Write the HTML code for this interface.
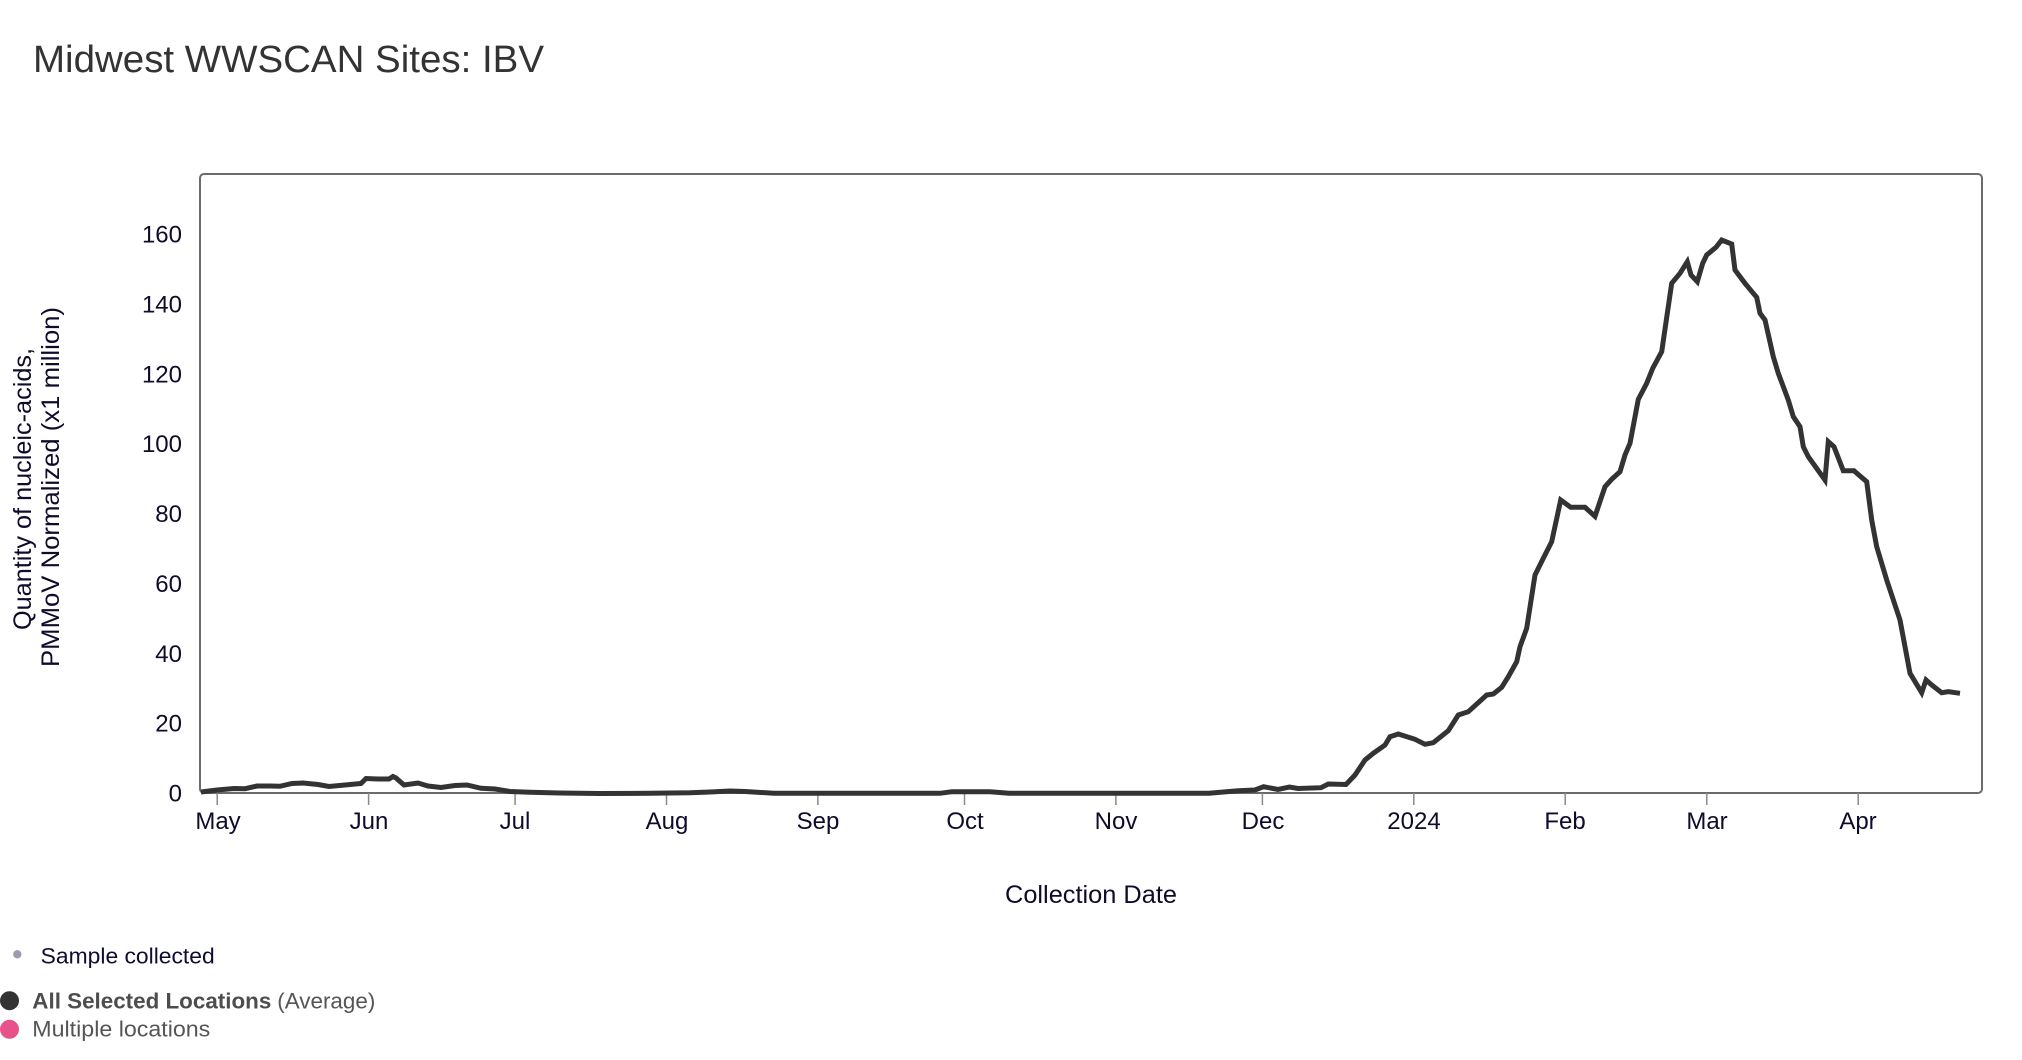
<!DOCTYPE html>
<html>
<head>
<meta charset="utf-8">
<style>
  html,body{margin:0;padding:0;background:#ffffff;}
  svg{display:block;}
  text{font-family:"Liberation Sans", Arial, sans-serif;}
</style>
</head>
<body>
<svg width="2022" height="1060" viewBox="0 0 2022 1060" xmlns="http://www.w3.org/2000/svg">
  <rect x="0" y="0" width="2022" height="1060" fill="#ffffff"/>

  <!-- Title -->
  <text x="33" y="72" font-size="38" fill="#333333" textLength="511" lengthAdjust="spacingAndGlyphs">Midwest WWSCAN Sites: IBV</text>

  <!-- Plot frame -->
  <rect x="200" y="174" width="1782" height="619" rx="4" ry="4" fill="none" stroke="#6b6b6b" stroke-width="2"/>

  <!-- X ticks -->
  <g stroke="#8a8a8a" stroke-width="1.5">
    <line x1="217.2" y1="793" x2="217.2" y2="805"/>
    <line x1="368.6" y1="793" x2="368.6" y2="805"/>
    <line x1="515.1" y1="793" x2="515.1" y2="805"/>
    <line x1="666.5" y1="793" x2="666.5" y2="805"/>
    <line x1="817.9" y1="793" x2="817.9" y2="805"/>
    <line x1="964.5" y1="793" x2="964.5" y2="805"/>
    <line x1="1115.9" y1="793" x2="1115.9" y2="805"/>
    <line x1="1262.4" y1="793" x2="1262.4" y2="805"/>
    <line x1="1413.8" y1="793" x2="1413.8" y2="805"/>
    <line x1="1565.2" y1="793" x2="1565.2" y2="805"/>
    <line x1="1706.8" y1="793" x2="1706.8" y2="805"/>
    <line x1="1858.2" y1="793" x2="1858.2" y2="805"/>
  </g>

  <!-- X tick labels -->
  <g font-size="24" fill="#0e0b2b" text-anchor="middle">
    <text x="218" y="829">May</text>
    <text x="369" y="829">Jun</text>
    <text x="515" y="829">Jul</text>
    <text x="667" y="829">Aug</text>
    <text x="818" y="829">Sep</text>
    <text x="965" y="829">Oct</text>
    <text x="1116" y="829">Nov</text>
    <text x="1263" y="829">Dec</text>
    <text x="1414" y="829">2024</text>
    <text x="1565" y="829">Feb</text>
    <text x="1707" y="829">Mar</text>
    <text x="1858" y="829">Apr</text>
  </g>

  <!-- Y tick labels -->
  <g font-size="24" fill="#0e0b2b" text-anchor="end">
    <text x="182" y="801.6">0</text>
    <text x="182" y="731.7">20</text>
    <text x="182" y="661.9">40</text>
    <text x="182" y="592.0">60</text>
    <text x="182" y="522.1">80</text>
    <text x="182" y="452.2">100</text>
    <text x="182" y="382.4">120</text>
    <text x="182" y="312.5">140</text>
    <text x="182" y="242.6">160</text>
  </g>

  <!-- Axis titles -->
  <text x="1091" y="903" font-size="25" fill="#0e0b2b" text-anchor="middle" textLength="172" lengthAdjust="spacingAndGlyphs">Collection Date</text>
  <text transform="translate(31,489) rotate(-90)" font-size="25" fill="#0e0b2b" text-anchor="middle" textLength="282" lengthAdjust="spacingAndGlyphs">Quantity of nucleic-acids,</text>
  <text transform="translate(59,487) rotate(-90)" font-size="25" fill="#0e0b2b" text-anchor="middle" textLength="360" lengthAdjust="spacingAndGlyphs">PMMoV Normalized (x1 million)</text>

  <!-- Data line -->
  <polyline fill="none" stroke="#333333" stroke-width="5" stroke-linejoin="miter" stroke-miterlimit="4" points="
    201,792 217,790 234,788.5 245,788.7 257,786 270,786 280,786.3 292,783.5 303,783 318,784.5 329,786.5 345,785 361,783.5
    366,778.5 378,779 389,779 393,776.5 396,778 404,785 418,783 428,786 441,787.5 455,785.5 467,785 481,788.3 495,789
    510,791.5 530,792.3 560,793 600,793.5 650,793.3 690,792.8 710,792 730,791 745,791.5 774,793.3 940,793.3 952,791.7
    990,791.7 1009,793.3 1100,793.3 1209,793.3 1238,790.7 1255,790 1263.6,786.7 1278,789.5 1289.4,787 1298,788.5
    1321,787.7 1328.3,784 1346,784.5 1355,775 1365,760 1373.3,753.3 1385,745 1390,736.7 1398.3,734 1415,739.3
    1425,744.3 1433.3,742.7 1448.3,730.7 1458.3,715 1468.3,711.7 1486.7,695 1493.3,694 1501.7,687.3 1508.3,676.7
    1516.7,661.7 1520,646.7 1526.7,628.3 1535,575 1543.3,558.3 1551.7,541.7 1560.7,500 1570.7,507.3 1585,507.3
    1595,516.3 1605,486.7 1611.7,479.3 1620,471.7 1625,455 1630,443.3 1638.3,399.3 1646.7,383.3 1652.7,368.3
    1661.7,351.7 1671.7,283.3 1680,273.3 1687.3,261.7 1691,275 1697.3,281.7 1702.7,263.3 1706.7,255 1716,247.3
    1721.7,240 1731.7,244 1735,270 1745,283.3 1753.3,293.3 1756.7,297.3 1760,313.3 1765,320 1773.3,356.7
    1778.3,373.3 1788.3,400 1793.3,416.7 1800,426.7 1803.3,446.7 1808.3,456.7 1825,480 1828.3,441.7 1834,446.7
    1843.3,470.7 1854,470.7 1860,476 1866.7,481.7 1871.7,520 1876.7,546.7 1886.7,580 1900,620 1910,673.3
    1921.7,692.7 1926,680 1931.7,685 1941.7,692.7 1948.3,691.7 1960,693.3"/>

  <!-- Legend -->
  <circle cx="17.3" cy="954.3" r="4.2" fill="#9a9cab"/>
  <text x="40.7" y="963.3" font-size="22.5" fill="#0f0d30" textLength="174" lengthAdjust="spacingAndGlyphs">Sample collected</text>

  <circle cx="9.5" cy="1000.7" r="9.5" fill="#333333"/>
  <text x="32.3" y="1008.3" font-size="22" font-weight="bold" fill="#4d4d4d" textLength="239" lengthAdjust="spacingAndGlyphs">All Selected Locations</text>
  <text x="277.3" y="1008.3" font-size="22" fill="#555555" textLength="98" lengthAdjust="spacingAndGlyphs">(Average)</text>

  <circle cx="9.5" cy="1029.3" r="9.5" fill="#e8528a"/>
  <text x="32.3" y="1036.7" font-size="22.5" fill="#555555" textLength="178" lengthAdjust="spacingAndGlyphs">Multiple locations</text>
</svg>
</body>
</html>
